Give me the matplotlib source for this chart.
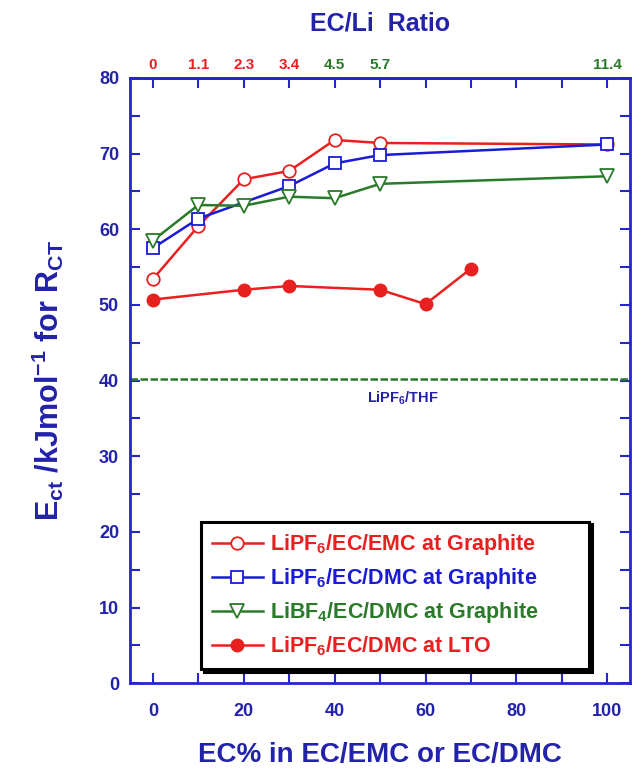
import numpy as np
import matplotlib
matplotlib.use('Agg')
import matplotlib.pyplot as plt
from matplotlib.ticker import MultipleLocator

plt.rcParams['font.family'] = ['Liberation Sans', 'DejaVu Sans']
plt.rcParams['font.weight'] = 'bold'
plt.rcParams['axes.labelweight'] = 'bold'
plt.rcParams['mathtext.fontset'] = 'custom'
plt.rcParams['mathtext.rm'] = 'Liberation Sans:bold'
plt.rcParams['mathtext.it'] = 'Liberation Sans:bold'
plt.rcParams['mathtext.bf'] = 'Liberation Sans:bold'

# data
ec_emc_x = [0, 10, 20, 30, 40, 50, 100]
ec_emc_y = [53.4, 60.4, 66.6, 67.7, 71.8, 71.4, 71.2]

ec_dmc_x = [0, 10, 30, 40, 50, 100]
ec_dmc_y = [57.5, 61.4, 65.7, 68.7, 69.8, 71.2]

libf4_x = [0, 10, 20, 30, 40, 50, 100]
libf4_y = [58.5, 63.2, 63.1, 64.3, 64.1, 66.0, 67.0]

lto_x = [0, 20, 30, 50, 60, 70]
lto_y = [50.7, 52.0, 52.5, 52.0, 50.1, 54.8]

thf_level = 40.2

ratio_pos = [0, 10, 20, 30, 40, 50, 100]
ratio_labels = ['0', '1.1', '2.3', '3.4', '4.5', '5.7', '11.4']

red = '#e82020'
blue = '#1a1ad8'
green = '#2a7a2a'
txt_blue = '#2222aa'
spine_blue = '#2626c8'

fig = plt.figure(figsize=(6.41, 7.79), dpi=100)
ax = fig.add_axes([0.203, 0.123, 0.78, 0.777])

ax.plot(ec_emc_x, ec_emc_y, color=red, lw=1.8, marker='o', ms=9,
        mfc='white', mec=red, mew=1.3, label='LiPF$_6$/EC/EMC at Graphite')
ax.plot(ec_dmc_x, ec_dmc_y, color=blue, lw=1.8, marker='s', ms=9,
        mfc='white', mec=blue, mew=1.3, label='LiPF$_6$/EC/DMC at Graphite')
ax.plot(libf4_x, libf4_y, color=green, lw=1.8, marker='v', ms=10,
        mfc='white', mec=green, mew=1.3, label='LiBF$_4$/EC/DMC at Graphite')
ax.plot(lto_x, lto_y, color=red, lw=1.8, marker='o', ms=9,
        mfc=red, mec=red, label='LiPF$_6$/EC/DMC at LTO')

# LiPF6/THF reference level
ax.axhline(thf_level, color=green, lw=1.8, ls=(0, (3, 1)))
ax.text(55, 37.6, 'LiPF$_6$/THF', color=txt_blue, fontsize=10.5,
        ha='center', va='center')

ax.set_xlim(-5, 105)
ax.set_ylim(0, 80)
ax.xaxis.set_major_locator(MultipleLocator(20))
ax.xaxis.set_minor_locator(MultipleLocator(10))
ax.yaxis.set_major_locator(MultipleLocator(10))
ax.yaxis.set_minor_locator(MultipleLocator(5))
ax.tick_params(which='both', direction='in', length=7, width=1.5,
               color=spine_blue, right=True, labelcolor=txt_blue,
               labelsize=13, pad=8)
ax.tick_params(axis='x', pad=14)
for s in ax.spines.values():
    s.set_color(spine_blue)
    s.set_linewidth(2)

ax.set_xlabel('EC% in EC/EMC or EC/DMC', color=txt_blue, fontsize=20,
              fontweight='bold', labelpad=16)
ax.set_ylabel('E$_{ct}$ /kJmol$^{-1}$ for R$_{CT}$', color=txt_blue,
              fontsize=22, fontweight='bold', labelpad=24)

# top axis: EC/Li ratio
sec = ax.secondary_xaxis('top')
sec.set_xticks(ratio_pos, labels=ratio_labels)
sec.xaxis.set_minor_locator(MultipleLocator(10))
sec.tick_params(which='both', direction='in', length=7, width=1.5,
                color=spine_blue, labelsize=11, pad=4)
for lbl, pos in zip(sec.get_xticklabels(), ratio_pos):
    lbl.set_color(red if pos < 40 else green)
sec.spines['top'].set_color(spine_blue)
sec.spines['top'].set_linewidth(2)
sec.set_xlabel('EC/Li  Ratio', color=txt_blue, fontsize=18,
               fontweight='bold', labelpad=20)

leg = ax.legend(loc='lower left', bbox_to_anchor=(0.12, 0.006, 0.82, 0.256),
                mode='expand', fontsize=15.5, labelcolor='linecolor',
                handlelength=2.4, handletextpad=0.3, borderpad=0.5,
                labelspacing=0.42, fancybox=False,
                shadow={'color': 'black', 'alpha': 1, 'ox': 2, 'oy': -2})
leg.get_frame().set_edgecolor('black')
leg.get_frame().set_linewidth(2.2)

fig.savefig('out.png', dpi=100)
